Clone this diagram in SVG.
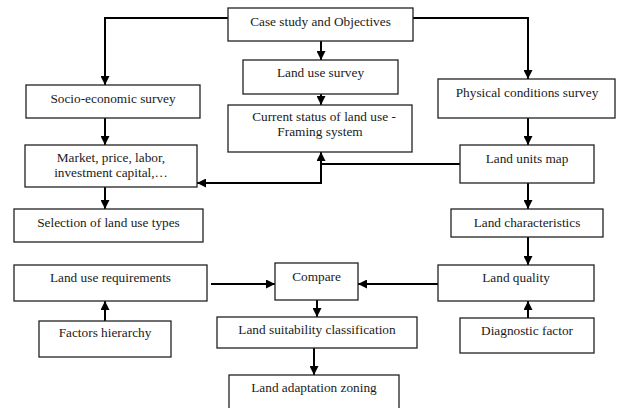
<svg xmlns="http://www.w3.org/2000/svg" width="619" height="408" viewBox="0 0 619 408">
<defs>
<style>
.box{fill:#fff;stroke:#222;stroke-width:1.3}
.t{font-family:'Liberation Serif','Times New Roman','DejaVu Serif',serif;font-size:13.3px;fill:#1a1a1a;text-anchor:middle}
.c{fill:none;stroke:#000;stroke-width:2}
</style>
<marker id="ah" viewBox="0 0 10 10" refX="10" refY="5" markerWidth="4.5" markerHeight="4.5" orient="auto" markerUnits="strokeWidth">
<path d="M0,0 L10,5 L0,10 z" fill="#000"/>
</marker>
</defs>
<rect width="619" height="408" fill="#fff"/>
<g id="connectors">
<path class="c" d="M228,18 H105 V85" marker-end="url(#ah)"/>
<path class="c" d="M413,18 H528 V79" marker-end="url(#ah)"/>
<path class="c" d="M321,41 V60" marker-end="url(#ah)"/>
<path class="c" d="M321,94 V105" marker-end="url(#ah)"/>
<path class="c" d="M105,118 V145" marker-end="url(#ah)"/>
<path class="c" d="M528,118 V145" marker-end="url(#ah)"/>
<path class="c" d="M460,164 H321 V152" marker-end="url(#ah)"/>
<path class="c" d="M321,164 V183 H197" marker-end="url(#ah)"/>
<path class="c" d="M105,187 V209" marker-end="url(#ah)"/>
<path class="c" d="M528,183 V209" marker-end="url(#ah)"/>
<path class="c" d="M528,237 V265" marker-end="url(#ah)"/>
<path class="c" d="M438,284 H358" marker-end="url(#ah)"/>
<path class="c" d="M211,284 H275" marker-end="url(#ah)"/>
<path class="c" d="M105,321 V301" marker-end="url(#ah)"/>
<path class="c" d="M528,318 V301" marker-end="url(#ah)"/>
<path class="c" d="M317,300 V317" marker-end="url(#ah)"/>
<path class="c" d="M314,348 V375" marker-end="url(#ah)"/>
</g>
<g id="case-study"><rect class="box" x="228" y="8" width="185" height="33"/><text class="t" x="320.5" y="26" font-family="Liberation Serif, serif">Case study and Objectives</text></g>
<g id="land-use-survey"><rect class="box" x="243" y="60" width="155" height="34"/><text class="t" x="320.5" y="77">Land use survey</text></g>
<g id="current-status"><rect class="box" x="228" y="105" width="184" height="47"/><text class="t" x="324" y="121">Current status of land use -</text><text class="t" x="320" y="136">Framing system</text></g>
<g id="socio"><rect class="box" x="26" y="85" width="174" height="33"/><text class="t" x="113" y="103">Socio-economic survey</text></g>
<g id="physical"><rect class="box" x="438" y="79" width="177" height="39"/><text class="t" x="527" y="97">Physical conditions survey</text></g>
<g id="market"><rect class="box" x="25" y="145" width="172" height="42"/><text class="t" x="111" y="162">Market, price, labor,</text><text class="t" x="111" y="177">investment capital,…</text></g>
<g id="selection"><rect class="box" x="14" y="209" width="189" height="33"/><text class="t" x="108.5" y="227">Selection of land use types</text></g>
<g id="land-units"><rect class="box" x="460" y="145" width="134" height="38"/><text class="t" x="527" y="163">Land units map</text></g>
<g id="land-char"><rect class="box" x="451" y="209" width="152" height="28"/><text class="t" x="527" y="227">Land characteristics</text></g>
<g id="land-use-req"><rect class="box" x="14" y="265" width="193" height="36"/><text class="t" x="110.5" y="282">Land use requirements</text></g>
<g id="factors"><rect class="box" x="39" y="321" width="132" height="36"/><text class="t" x="105" y="337">Factors hierarchy</text></g>
<g id="compare"><rect class="box" x="275" y="263" width="83" height="37"/><text class="t" x="316.5" y="281">Compare</text></g>
<g id="land-quality"><rect class="box" x="438" y="265" width="156" height="36"/><text class="t" x="516" y="282">Land quality</text></g>
<g id="diagnostic"><rect class="box" x="460" y="318" width="134" height="35"/><text class="t" x="527" y="335">Diagnostic factor</text></g>
<g id="suitability"><rect class="box" x="217" y="317" width="200" height="31"/><text class="t" x="317" y="334">Land suitability classification</text></g>
<g id="zoning"><rect class="box" x="229" y="375" width="170" height="40"/><text class="t" x="314" y="392">Land adaptation zoning</text></g>
</svg>
